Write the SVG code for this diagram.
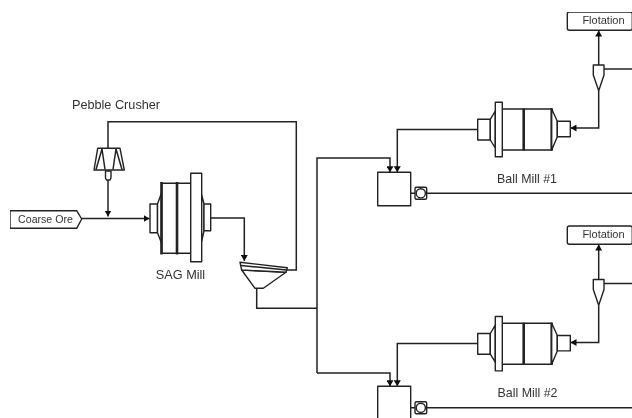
<svg xmlns="http://www.w3.org/2000/svg" width="632" height="418" viewBox="0 0 632 418">
<style>
.l{fill:none;stroke:#222;stroke-width:1.5}
.s{fill:#fff;stroke:#222;stroke-width:1.4;stroke-linejoin:round}
.b{fill:none;stroke:#222;stroke-width:2.6}
text{font-family:"Liberation Sans",Arial,sans-serif;fill:#333;text-anchor:middle}
</style>
<defs>
<marker id="a" markerUnits="userSpaceOnUse" markerWidth="7" markerHeight="7" refX="6" refY="3.5" orient="auto"><path d="M0 0L6 3.5L0 7Z" fill="#111"/></marker>
<filter id="soft" x="0" y="0" width="1" height="1"><feGaussianBlur stdDeviation="0.35"/></filter>
<g id="ballmill">
<rect class="s" x="477.7" y="119.3" width="12.6" height="20.7"/>
<path class="s" d="M490.3 119.3L495.3 111V148L490.3 140Z"/>
<rect class="s" x="502.3" y="109" width="49.4" height="41"/>
<rect class="s" x="495.3" y="102.3" width="7" height="54.4"/>
<path class="b" d="M523.7 108.5V150.5"/>
<path class="b" d="M551.7 108.5V150.5"/>
<path class="s" d="M551.7 109L557.3 121.3V136.7L551.7 150Z"/>
<rect class="s" x="557.3" y="121.3" width="13" height="15.4"/>
</g>
<g id="cyclone">
<path class="s" d="M593.3 65H604V75L598.7 90.7L593.3 75Z"/>
</g>
<g id="pump">
<rect class="s" x="415" y="187.3" width="11.7" height="12" rx="1.5" stroke-width="1.8"/>
<circle class="s" cx="420.8" cy="193.3" r="4.6"/>
</g>
</defs>
<g filter="url(#soft)">
<g id="connectors">
<path class="l" d="M81.7 218.5H149.5" marker-end="url(#a)"/>
<path class="l" d="M108 180V216.5" marker-end="url(#a)"/>
<path class="l" d="M108 148.5V121.7H296.3V270H287"/>
<path class="l" d="M210.7 218H244.3V261" marker-end="url(#a)"/>
<path class="l" d="M256.7 288.3V308.3H317"/>
<path class="l" d="M317 373H390V386.3" marker-end="url(#a)"/>
<path class="l" d="M317 373V158H390V172.3" marker-end="url(#a)"/>
<path class="l" d="M477.7 129.5H397.3V172.3" marker-end="url(#a)"/>
<path class="l" d="M477.7 343.5H397.3V386.3" marker-end="url(#a)"/>
<path class="l" d="M598.7 90.7V128H570.5" marker-end="url(#a)"/>
<path class="l" d="M598.7 305.2V342.5H570.5" marker-end="url(#a)"/>
<path class="l" d="M598.7 65V30.5" stroke-width="2" marker-end="url(#a)"/>
<path class="l" d="M598.7 279.5V244.5" stroke-width="2" marker-end="url(#a)"/>
<path class="l" d="M604 69H632"/>
<path class="l" d="M604 283.5H632"/>
<path class="l" d="M410.7 193.3H415M426.7 193.3H632"/>
<path class="l" d="M410.7 407.8H415M426.7 407.8H632"/>
</g>
<g id="coarse-ore">
<path class="s" d="M10 210.7H76.7L81.7 219L76.7 228.3H10Z"/>
<text x="45.5" y="222.8" font-size="10.6">Coarse Ore</text>
</g>
<g id="pebble-crusher">
<path class="s" d="M97.7 148.3H120L124.3 170H94Z"/>
<path class="l" d="M102 149L96 169.5M116 149L122 169.5M102 149L105 169.5M116 149L113 169.5"/>
<path class="s" d="M105.5 171H111V178L110 180H106.5L105.5 178Z"/>
<text x="116" y="109" font-size="12.7">Pebble Crusher</text>
</g>
<g id="sag-mill">
<rect class="s" x="150" y="204" width="7.5" height="28.7"/>
<path class="s" d="M157.5 204L161.5 193V243L157.5 232.7Z"/>
<rect class="s" x="161.7" y="183.3" width="29" height="70"/>
<path class="b" d="M161.5 182V254.5M177 182V254.5"/>
<rect class="s" x="190.7" y="173.3" width="11" height="88.4"/>
<path class="s" d="M201.7 195L204 204V231L201.7 241Z"/>
<rect class="s" x="204" y="204" width="6.7" height="26.7"/>
<text x="180.5" y="279" font-size="12.7">SAG Mill</text>
</g>
<g id="screen">
<path class="s" d="M241.7 270L255 288.3H263.3L286 272.3Z"/>
<path class="s" d="M240 262.3L287.3 267.7L286 272.3L241.7 270Z"/>
<path class="l" d="M241 265.5L286.5 270"/>
</g>
<g id="ball-mill-1">
<use href="#ballmill"/>
<text x="527" y="183" font-size="12.4">Ball Mill #1</text>
</g>
<g id="ball-mill-2">
<use href="#ballmill" y="214.2"/>
<text x="527.5" y="397" font-size="12.4">Ball Mill #2</text>
</g>
<g id="sump-1"><rect class="s" x="377.7" y="172.3" width="33" height="33.4"/></g>
<g id="sump-2"><rect class="s" x="377.7" y="386.3" width="33" height="33.4"/></g>
<g id="pump-1"><use href="#pump"/></g>
<g id="pump-2"><use href="#pump" y="214.5"/></g>
<g id="cyclone-1"><use href="#cyclone"/></g>
<g id="cyclone-2"><use href="#cyclone" y="214.5"/></g>
<g id="flotation-1">
<rect class="s" x="567.3" y="12" width="65" height="18.3" rx="2"/>
<text x="603.5" y="23.5" font-size="11">Flotation</text>
</g>
<g id="flotation-2">
<rect class="s" x="567.3" y="226" width="65" height="18.3" rx="2"/>
<text x="603.5" y="237.5" font-size="11">Flotation</text>
</g>
</g>
</svg>
